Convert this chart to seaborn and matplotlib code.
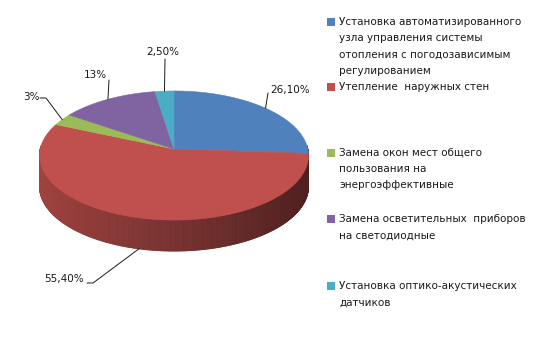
import numpy as np
import matplotlib
matplotlib.use('Agg')
import matplotlib.pyplot as plt
import seaborn as sns
from matplotlib.patches import Rectangle, Polygon
from matplotlib.collections import PolyCollection
from matplotlib.colors import to_rgb

categories = [
    "Установка автоматизированного\nузла управления системы\nотопления с погодозависимым\nрегулированием",
    "Утепление  наружных стен",
    "Замена окон мест общего\nпользования на\nэнергоэффективные",
    "Замена осветительных  приборов\nна светодиодные",
    "Установка оптико-акустических\nдатчиков",
]
values = [26.1, 55.4, 3.0, 13.0, 2.5]
value_labels = ["26,10%", "55,40%", "3%", "13%", "2,50%"]
colors = ["#4F81BD", "#C0504D", "#9BBB59", "#8064A2", "#4BACC6"]

sns.set_theme(style="white")
plt.rcParams['font.family'] = ['DejaVu Sans']

fig = plt.figure(figsize=(5.38, 3.56), dpi=100)
ax = fig.add_axes([0, 0, 1, 1])

wedges, _ = ax.pie(values, colors=colors, startangle=90, counterclock=False,
                   radius=1, center=(0, 0))
ax.set_xlim(0, 538)
ax.set_ylim(356, 0)
ax.set_aspect('auto')
ax.axis('off')

# perspective projection of the unit disc onto the figure (pixel coords)
cx, cy, Rx, Ry, p, depth = 174, 149, 133.8, 63.9, 0.101, 31


def proj(c, s, z=0.0):
    c = np.asarray(c, float)
    s = np.asarray(s, float)
    k = 1.0 / (1.0 + p * s)
    return np.column_stack([cx + Rx * c * k, cy - Ry * s * k + z])


# top faces, built from the library's wedges
for w, col in zip(wedges, colors):
    t = np.radians(np.linspace(w.theta1, w.theta2, 120))
    c = np.concatenate([[0], np.cos(t)])
    s = np.concatenate([[0], np.sin(t)])
    poly = Polygon(proj(c, s), closed=True, facecolor=col, edgecolor=col,
                   linewidth=0.4, zorder=3)
    ax.add_patch(poly)
    w.set_visible(False)

# side of the disc
polys, pcols = [], []
for w, col in zip(wedges, colors):
    ts = np.linspace(w.theta1, w.theta2, max(2, int((w.theta2 - w.theta1) / 0.5) + 1))
    base = np.array(to_rgb(col))
    for t1, t2 in zip(ts[:-1], ts[1:]):
        m = np.radians((t1 + t2) / 2)
        if np.sin(m) >= 0.05:
            continue
        r = np.radians([t1, t2])
        top = proj(np.cos(r), np.sin(r))
        bot = proj(np.cos(r), np.sin(r), depth)
        polys.append(np.vstack([top, bot[::-1]]))
        f = 0.62 - 0.22 * np.cos(m)
        pcols.append(np.clip(base * f, 0, 1))
pc = PolyCollection(polys, facecolors=pcols, edgecolors=pcols, linewidths=0.6, zorder=2)
ax.add_collection(pc)

# data labels with leader lines
text_pos = [(290, 90), (64, 279), (31, 97), (95, 75), (163, 52)]
elbows = [(268, 93), (93, 283), (46, 98), (109, 80), (165, 59)]
starts = [None, (87, 283), (40, 98), None, None]
for i, (w, lab) in enumerate(zip(wedges, value_labels)):
    mid = np.radians((w.theta1 + w.theta2) / 2)
    if i == 1:
        anchor = proj([np.cos(mid)], [np.sin(mid)], depth)[0]
    else:
        anchor = proj([np.cos(mid)], [np.sin(mid)])[0]
    ax.text(*text_pos[i], lab, ha='center', va='center', fontsize=7.5,
            color='#1a1a1a', zorder=5)
    xs = [anchor[0], elbows[i][0]]
    ys = [anchor[1], elbows[i][1]]
    if starts[i] is not None:
        xs.append(starts[i][0])
        ys.append(starts[i][1])
    ax.plot(xs, ys, color='#1a1a1a', lw=0.7, zorder=4)

# legend
leg_y = [22, 87, 153, 219, 286]
for cat, col, y0 in zip(categories, colors, leg_y):
    ax.add_patch(Rectangle((327, y0 - 4), 7.5, 7.5, facecolor=col, edgecolor='none', zorder=5))
    for k, line in enumerate(cat.split("\n")):
        ax.text(339, y0 + k * 16.2, line, ha='left', va='center', fontsize=7.5,
                color='#1a1a1a', zorder=5)

fig.savefig("out.png", dpi=100)
